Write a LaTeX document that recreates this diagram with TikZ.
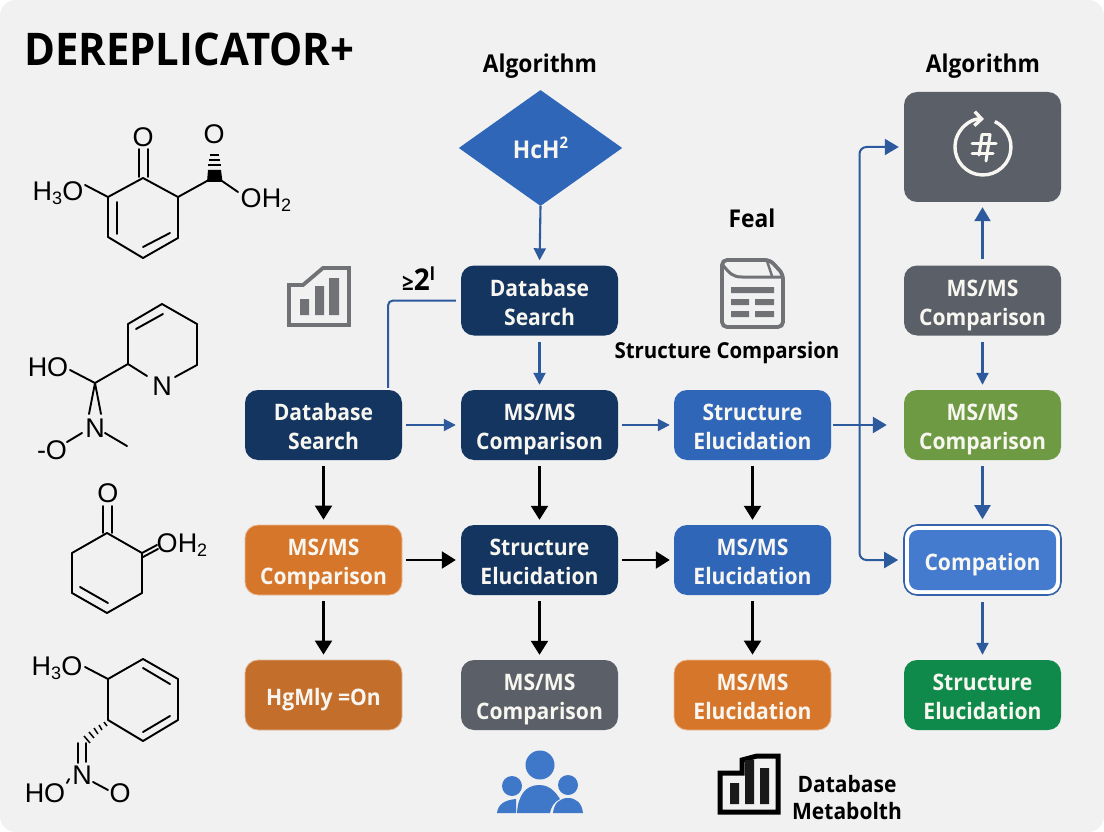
\documentclass[tikz,border=0pt]{standalone}
\usepackage{fontspec}
\setmainfont{Open Sans}[FakeStretch=0.93]
\newfontfamily\chemfont{Liberation Sans}
\usetikzlibrary{arrows.meta,shapes.geometric,calc}
\definecolor{pagebg}{HTML}{F1F1F2}
\definecolor{navy}{HTML}{14355F}
\definecolor{midblue}{HTML}{2F66B8}
\definecolor{brightblue}{HTML}{447BCE}
\definecolor{orangeA}{HTML}{D6762B}
\definecolor{orangeB}{HTML}{C46E2C}
\definecolor{slate}{HTML}{5B6068}
\definecolor{olive}{HTML}{6E9A44}
\definecolor{emerald}{HTML}{108A4B}
\definecolor{arrowblue}{HTML}{2D5A9C}
\definecolor{icongray}{HTML}{707276}
\definecolor{offwhite}{HTML}{F8F6F0}
\newcommand{\chemsub}[1]{\raisebox{-0.28ex}{\fontsize{18}{18}\selectfont #1}}
\newcommand{\boxtext}[1]{\raisebox{-9.4pt}[20pt][20pt]{\begin{tabular}[c]{@{}c@{}}#1\end{tabular}}}
\tikzset{
  x=1pt,y=-1pt,
  flowbox/.style={rounded corners=13pt,minimum width=157pt,minimum height=70pt,inner sep=0pt,text=offwhite,
    font=\fontsize{22.7}{29}\selectfont\bfseries},
  navybox/.style={flowbox,fill=navy},
  bluebox/.style={flowbox,fill=midblue},
  orangebox/.style={flowbox,fill=orangeA,draw=orangeA!50!white,line width=0.8pt},
  orangedark/.style={flowbox,fill=orangeB,draw=orangeB!50!white,line width=0.8pt},
  slatebox/.style={flowbox,fill=slate},
  olivebox/.style={flowbox,fill=olive},
  emeraldbox/.style={flowbox,fill=emerald},
  heading/.style={inner sep=0pt,text=black,font=\fontsize{24.5}{27}\selectfont\bfseries,align=center},
  bluearrow/.style={draw=arrowblue,line width=2.1pt,-{Triangle[length=12pt,width=12pt]}},
  bigarrow/.style={draw=arrowblue,line width=2.2pt,-{Triangle[length=14pt,width=16pt]}},
  blackarrow/.style={draw=black,line width=2.2pt,-{Triangle[length=14pt,width=17pt]}},
  bond/.style={draw=black,line width=1.9pt,line cap=round,line join=round},
  chem/.style={inner sep=0pt,text=black,font=\fontsize{27}{27}\selectfont\chemfont},
  iconline/.style={draw=icongray,line width=3.8pt,line join=miter},
  iconbar/.style={fill=icongray},
}
\begin{document}
\begin{tikzpicture}
\useasboundingbox (0,0) rectangle (1104,832);
\fill[white] (0,0) rectangle (1104,832);
\fill[pagebg,rounded corners=16pt] (0,0) rectangle (1104,832);

% titles
\node[heading,anchor=west,font=\fontsize{45}{48}\selectfont\bfseries] (title) at (24,49) {DEREPLICATOR+};
\node[heading] (alg1) at (540,66) {Algorithm};
\node[heading] (alg2) at (983,66) {Algorithm};
\node[heading] (feal) at (752,218) {Feal};
\node[heading,font=\fontsize{22}{26}\selectfont\bfseries] (sc) at (727,353) {Structure Comparsion};
\node[heading,font=\fontsize{30}{30}\selectfont\bfseries] (ge) at (418.5,279) {{\fontsize{22}{22}\selectfont ≥}2\raisebox{0.6ex}{\fontsize{18}{18}\selectfont l}};

% boxes
\node[diamond,aspect=1.4,fill=midblue,draw=midblue,line width=1pt,line join=round,minimum width=162pt,minimum height=115pt,inner sep=0pt,text=offwhite,
  font=\fontsize{24.5}{26}\selectfont\bfseries] (dia) at (540.5,148) {HcH\raisebox{0.7ex}{\fontsize{16}{16}\selectfont 2}};
\node[navybox] (dbtop) at (539.5,300.5) {\boxtext{Database\\Search}};
\node[navybox] (db) at (323.5,425) {\boxtext{Database\\Search}};
\node[navybox] (ms1) at (539.5,425) {\boxtext{MS/MS\\Comparison}};
\node[bluebox] (se1) at (752.5,425) {\boxtext{Structure\\Elucidation}};
\node[orangebox] (ms2) at (323.5,560) {\boxtext{MS/MS\\Comparison}};
\node[navybox] (se2) at (539.5,560) {\boxtext{Structure\\Elucidation}};
\node[bluebox] (ms3) at (752.5,560) {\boxtext{MS/MS\\Elucidation}};
\node[orangedark] (hg) at (323.5,695) {\boxtext{HgMly =On}};
\node[slatebox] (ms4) at (539.5,695) {\boxtext{MS/MS\\Comparison}};
\node[orangebox] (ms5) at (752.5,695) {\boxtext{MS/MS\\Elucidation}};
\node[slatebox,minimum height=110pt] (alg) at (982.5,147) {};
\node[slatebox] (ms6) at (982.5,300.5) {\boxtext{MS/MS\\Comparison}};
\node[olivebox] (ms7) at (982.5,425) {\boxtext{MS/MS\\Comparison}};
\node[flowbox,draw=arrowblue!75!brightblue,fill=white,line width=1.6pt,
  path picture={\fill[brightblue,rounded corners=9pt] ($(path picture bounding box.center)+(-73.5,-30)$) rectangle ($(path picture bounding box.center)+(73.5,30)$);}] (comp) at (982.5,560) {\boxtext{Compation}};
\node[emeraldbox] (se3) at (982.5,695) {\boxtext{Structure\\Elucidation}};

% connectors
\draw[bluearrow,shorten >=5pt] (dia.south) -- (dbtop.north);
\draw[bluearrow,shorten <=6pt,shorten >=5pt] (dbtop.south) -- (ms1.north);
\draw[draw=arrowblue,line width=2pt,rounded corners=5pt,shorten <=5pt,shorten >=2pt] (dbtop.west) -| ($(db.north)+(64.5,0)$);
\draw[bluearrow,shorten <=4pt,shorten >=5pt] (db.east) -- (ms1.west);
\draw[bluearrow,shorten <=4pt,shorten >=4pt] (ms1.east) -- (se1.west);
\draw[bigarrow,line width=2.6pt,shorten <=2pt,shorten >=17pt] (se1.east) -- (ms7.west);
\coordinate (bus) at (859.5,425);
\draw[bigarrow,rounded corners=7pt,line width=2pt,shorten >=5pt] (bus) |- (alg.west);
\draw[bigarrow,rounded corners=7pt,line width=2pt,shorten >=5pt] (bus) |- (comp.west);
\foreach \a/\b in {db/ms2,ms2/hg,ms1/se2,se2/ms4,se1/ms3,ms3/ms5}
  \draw[blackarrow,shorten <=6pt,shorten >=5pt] (\a.south) -- (\b.north);
\draw[blackarrow,shorten <=4pt,shorten >=5pt] (ms2.east) -- (se2.west);
\draw[blackarrow,shorten <=4pt,shorten >=4pt] (se2.east) -- (ms3.west);
\draw[bigarrow,shorten <=6pt,shorten >=5pt] (ms6.north) -- (alg.south);
\draw[bluearrow,shorten <=6pt,shorten >=5pt] (ms6.south) -- (ms7.north);
\draw[bigarrow,shorten <=6pt,shorten >=5pt] (ms7.south) -- (comp.north);
\draw[bluearrow,shorten <=6pt,shorten >=5pt] (comp.south) -- (se3.north);

% cycle icon on the slate box
\draw[offwhite,line width=3.4pt,-{Straight Barb[length=7pt,width=14pt]}] (994.8,121.6) arc[start angle=-65,end angle=272,radius=28];
\begin{scope}[offwhite,line width=3pt,line cap=round]
  \draw (972,144) -- (996,144);
  \draw (972,154) -- (993,154);
  \draw (982,135) -- (979,155);
  \draw (990,135) -- (986,161);
  \draw (982,135) -- (990,135);
\end{scope}

% chart icon
\draw[iconline] (289,285) -- (303,285) -- (323,268) -- (349,268) -- (349,325) -- (289,325) -- cycle;
\fill[iconbar] (300,299) rectangle (309,315) (315,286) rectangle (324,315) (329,278) rectangle (339,315);

% document icon
\draw[iconline,rounded corners=5pt] (722,260) -- (770,260) -- (783,274) -- (783,327) -- (722,327) -- cycle;
\draw[draw=icongray,line width=3pt] (722,264) .. controls (730,274) and (733,277) .. (742,277) -- (783,277);
\draw[draw=icongray,line width=2.5pt] (767,261) -- (772,276);
\fill[iconbar] (731,287) rectangle (774,293) (731,299) rectangle (749,305) (755,299) rectangle (774,305) (731,311) rectangle (749,317) (755,311) rectangle (774,317);

% people icon
\definecolor{people}{HTML}{3F78C9}
\fill[people] (540,765) circle (14.5) (512,786) circle (10) (568,785) circle (10);
\fill[people] (497,813) .. controls (498,804) and (505,800) .. (516,799) -- (516,813) -- cycle;
\fill[people] (553,813) .. controls (554,803) and (560,798) .. (568,798) .. controls (576,798) and (582,803) .. (583,813) -- cycle;
\fill[people] (517,813) .. controls (518,795) and (526,785) .. (539,785) .. controls (552,785) and (557,795) .. (560,799) .. controls (554,802) and (551,807) .. (550,813) -- cycle;

% black chart icon
\draw[black,line width=5pt,line join=miter] (720,773) -- (742,773) -- (742,760) -- (757,756) -- (778,756) -- (778,812) -- (720,812) -- cycle;
\fill[black!90] (730,783) rectangle (739,804) (745,760) rectangle (754,804) (760,768) rectangle (769,804);
\node[heading,font=\fontsize{22.6}{27}\selectfont\bfseries] (metab) at (847,798) {Database\\Metabolth};

% molecule 1
\draw[bond] (143,178) -- (178,197) -- (178,238) -- (143,258) -- (108,237) -- (108,197) -- cycle;
\draw[bond] (117,202) -- (117,234) (143,247) -- (170,233);
\draw[bond] (139,177) -- (139,149) (148,177) -- (148,149);
\draw[bond] (108,197) -- (85,185) (178,197) -- (207,181) (222,181) -- (238,192);
\fill[black] (207,182) -- (222.5,182) -- (221,170) -- (208,170) -- cycle;
\draw[black,line width=1.6pt] (208,165) -- (221,165) (209,160) -- (220,160) (210,155) -- (219,155);
\node[chem] (m1a) at (143,137) {O};
\node[chem] (m1b) at (214,134) {O};
\node[chem] (m1c) at (58,193) {H\chemsub{3}O};
\node[chem] (m1d) at (266,200) {OH\chemsub{2}};

% molecule 2
\draw[bond] (175,377) -- (197,365) -- (197,324) -- (162,304) -- (128,324) -- (128,364) -- (147,376);
\draw[bond] (136,329) -- (163,314) (128,364) -- (95,383) (70,370) -- (95,383);
\draw[bond] (95,383) -- (89,414) (95,383) -- (101,414);
\draw[bond] (105,433) -- (127,446) (82,433) -- (67,442);
\node[chem] (m2a) at (162,386) {N};
\node[chem] (m2b) at (48,367) {HO};
\node[chem] (m2c) at (95,428) {N};
\node[chem] (m2d) at (52,450) {-O};

% molecule 3
\draw[bond] (107,533) -- (142,553) -- (142,593) -- (107,613) -- (72,593) -- (72,553) -- cycle;
\draw[bond] (80,587) -- (108,603) (103,533) -- (103,506) (112,533) -- (112,506);
\draw[bond] (142,553) -- (157,545) (143,557) -- (158,549);
\node[chem] (m3a) at (108,493) {O};
\node[chem] (m3b) at (182,545) {OH\chemsub{2}};

% molecule 4
\draw[bond] (143,659) -- (178,679) -- (178,720) -- (143,741) -- (108,720) -- (108,679) -- cycle;
\draw[bond] (143,668) -- (170,684) (143,732) -- (170,716) (85,667) -- (108,679);
\draw[black,line width=1.5pt] (104,722) -- (107,726) (99,725) -- (102,730) (94,728) -- (98,734) (89,732) -- (94,738) (84,736) -- (90,743);
\draw[bond] (78,743) -- (78,763) (86,743) -- (86,762) (93,782) -- (108,790) (69,779) -- (67,783);
\node[chem] (m4a) at (57,668) {H\chemsub{3}O};
\node[chem] (m4b) at (82,775) {N};
\node[chem] (m4c) at (45,793) {HO};
\node[chem] (m4d) at (120,793) {O};
\end{tikzpicture}
\end{document}
